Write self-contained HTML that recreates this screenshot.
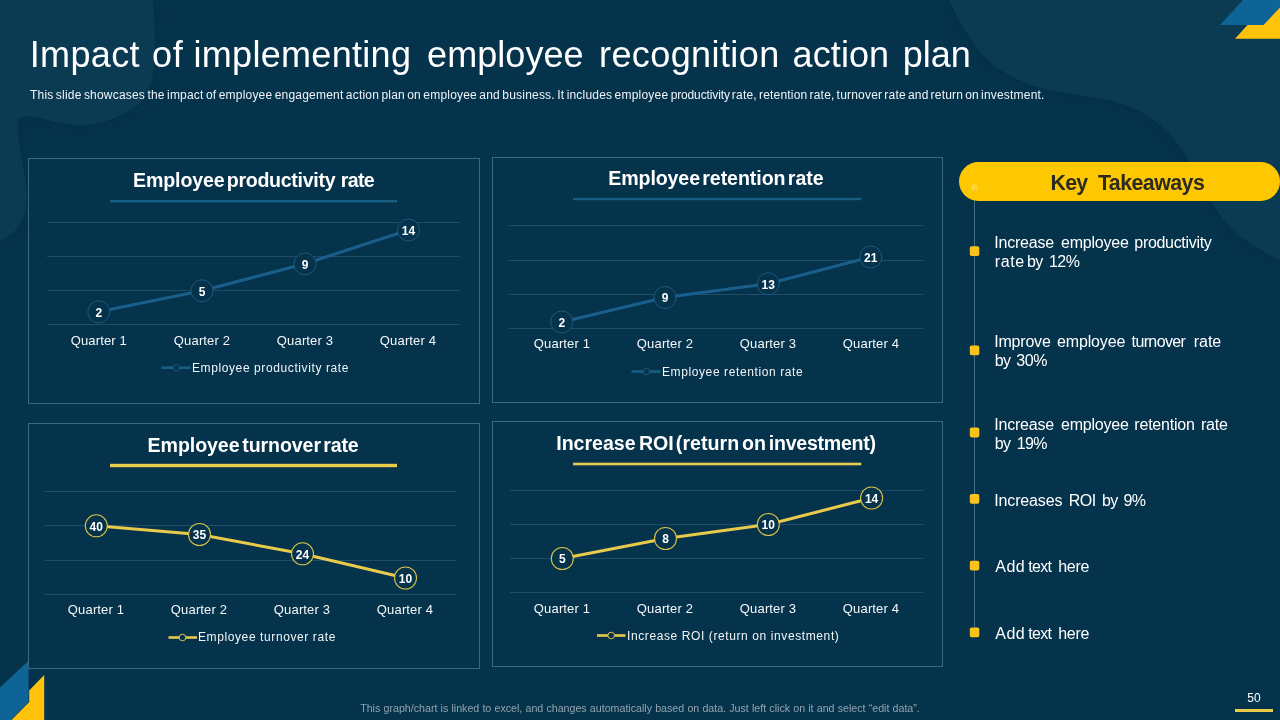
<!DOCTYPE html>
<html lang="en">
<head>
<meta charset="utf-8">
<title>Impact of implementing employee recognition action plan</title>
<style>
  html,body{margin:0;padding:0;}
  body{width:1280px;height:720px;overflow:hidden;background:#05334b;font-family:"Liberation Sans",Arial,sans-serif;color:#fff;}
  #slide{position:relative;width:1280px;height:720px;overflow:hidden;background:#05334b;}
  #art{position:absolute;left:0;top:0;width:1280px;height:720px;}
  .abs{position:absolute;white-space:nowrap;}
  h1{margin:0;font-size:36px;line-height:43px;font-weight:400;color:#fff;}
  .sub{left:30px;top:88px;font-size:12px;line-height:14px;color:#f0f4f7;letter-spacing:0.2px;word-spacing:-1.45px;}
  .ct{font-weight:700;font-size:19.6px;line-height:24px;color:#fff;}
  .kt{left:958.5px;top:162px;width:321.5px;height:39px;border-radius:19.5px;background:#fec800;}
  .dot{position:absolute;left:12.5px;top:21.5px;width:7px;height:7px;border-radius:50%;background:#ffd440;opacity:.8;}
  .kth{font-weight:700;font-size:21.33px;line-height:26px;color:#2d2a20;}
  .li{font-size:16px;line-height:19px;color:#fff;}
  .foot{left:0;width:1280px;top:702px;text-align:center;font-size:10.67px;line-height:12px;color:#93a4af;word-spacing:0.2px;}
  .pn{left:1235px;width:38px;top:691px;text-align:center;font-size:12px;line-height:14px;color:#fff;}
  svg text{font-family:"Liberation Sans",Arial,sans-serif;}
</style>
</head>
<body>
<div id="slide">
<svg id="art" width="1280" height="720" viewBox="0 0 1280 720">
  <!-- background blobs -->
  <defs><filter id="soft" x="-20%" y="-20%" width="140%" height="140%"><feGaussianBlur stdDeviation="5"/></filter></defs>
  <g fill="#022a40" opacity="0.55" filter="url(#soft)"><path d="M0 0 H153 C153.3 6.2 155.0 24.5 155.0 37.0 C155.0 49.5 155.1 64.5 153.0 75.0 C150.9 85.5 147.5 93.5 142.5 100.0 C137.5 106.5 130.1 110.2 123.0 114.0 C115.9 117.8 107.5 121.1 100.0 123.0 C92.5 124.9 85.5 125.8 78.0 125.5 C70.5 125.2 61.8 122.8 55.0 121.5 C48.2 120.2 42.2 118.2 37.0 117.5 C31.8 116.8 27.1 116.2 24.0 117.0 C20.9 117.8 19.2 117.3 18.5 122.0 C17.8 126.7 18.7 137.5 19.5 145.0 C20.3 152.5 22.1 159.7 23.3 167.0 C24.5 174.3 26.1 182.3 26.5 189.0 C26.9 195.7 26.8 201.8 26.0 207.0 C25.2 212.2 24.2 215.7 22.0 220.0 C19.8 224.3 16.7 229.5 13.0 233.0 C9.3 236.5 2.2 239.7 0.0 241.0 Z"/><path d="M949.5 0 C951.8 4.6 956.1 17.2 963.0 27.7 C969.9 38.2 979.7 53.5 991.0 63.0 C1002.3 72.5 1016.1 79.7 1030.6 85.0 C1045.1 90.3 1062.8 91.9 1078.0 95.0 C1093.2 98.1 1108.5 99.1 1121.7 103.7 C1134.9 108.3 1146.5 114.3 1157.0 122.7 C1167.5 131.1 1176.4 141.4 1185.0 154.0 C1193.6 166.6 1200.2 184.7 1208.8 198.0 C1217.4 211.3 1224.6 223.1 1236.5 233.6 C1248.4 244.1 1272.8 256.4 1280.0 261.0 V0 Z"/></g>
  <path d="M0 0 H153 C153.3 6.2 155.0 24.5 155.0 37.0 C155.0 49.5 155.1 64.5 153.0 75.0 C150.9 85.5 147.5 93.5 142.5 100.0 C137.5 106.5 130.1 110.2 123.0 114.0 C115.9 117.8 107.5 121.1 100.0 123.0 C92.5 124.9 85.5 125.8 78.0 125.5 C70.5 125.2 61.8 122.8 55.0 121.5 C48.2 120.2 42.2 118.2 37.0 117.5 C31.8 116.8 27.1 116.2 24.0 117.0 C20.9 117.8 19.2 117.3 18.5 122.0 C17.8 126.7 18.7 137.5 19.5 145.0 C20.3 152.5 22.1 159.7 23.3 167.0 C24.5 174.3 26.1 182.3 26.5 189.0 C26.9 195.7 26.8 201.8 26.0 207.0 C25.2 212.2 24.2 215.7 22.0 220.0 C19.8 224.3 16.7 229.5 13.0 233.0 C9.3 236.5 2.2 239.7 0.0 241.0 Z" fill="#0b3a53"/>
  <path d="M949.5 0 C951.8 4.6 956.1 17.2 963.0 27.7 C969.9 38.2 979.7 53.5 991.0 63.0 C1002.3 72.5 1016.1 79.7 1030.6 85.0 C1045.1 90.3 1062.8 91.9 1078.0 95.0 C1093.2 98.1 1108.5 99.1 1121.7 103.7 C1134.9 108.3 1146.5 114.3 1157.0 122.7 C1167.5 131.1 1176.4 141.4 1185.0 154.0 C1193.6 166.6 1200.2 184.7 1208.8 198.0 C1217.4 211.3 1224.6 223.1 1236.5 233.6 C1248.4 244.1 1272.8 256.4 1280.0 261.0 V0 Z" fill="#0b3a53"/>
  <!-- corner art top right -->
  <polygon points="1243,0 1280,0 1280,7.5 1263.5,25 1220,25" fill="#0e6496"/>
  <polygon points="1280,7.5 1280,38.7 1235,38.7 1247.5,25 1263.5,25" fill="#ffc30b"/>
  <!-- corner art bottom left -->
  <polygon points="0,687.5 28.5,660.8 28.5,702 11,720 0,720" fill="#0e6496"/>
  <polygon points="44.2,675 44.2,720 11.5,720 29.2,702 29.2,690.5" fill="#ffc30b"/>
  <!-- panels -->
  <g fill="#05334b" stroke="#3a6781" stroke-width="1">
    <rect x="28.5" y="158.5" width="451" height="245"/>
    <rect x="492.5" y="157.5" width="450" height="245"/>
    <rect x="28.5" y="423.5" width="451" height="245"/>
    <rect x="492.5" y="421.5" width="450" height="245"/>
  </g>
  <!-- title underlines -->
  <g>
    <rect x="110" y="200" width="287" height="2.4" fill="#156082"/>
    <rect x="573" y="197.8" width="288.2" height="2.4" fill="#156082"/>
    <rect x="110" y="463.8" width="287" height="3.4" fill="#e9cb4c"/>
    <rect x="573" y="462.7" width="288.2" height="2.6" fill="#e9cb4c"/>
  </g>
  <!-- gridlines -->
  <g stroke="#1f4d68" stroke-width="1" fill="none">
    <path d="M47 222.5H460 M47 256.5H460 M47 290.5H460 M47 324.5H460"/>
    <path d="M509 225.5H923.5 M509 260.5H923.5 M509 294.5H923.5 M509 328.5H923.5"/>
    <path d="M44.5 491.5H456.5 M44.5 525.5H456.5 M44.5 560.5H456.5 M44.5 594.5H456.5"/>
    <path d="M510 490.5H923.5 M510 524.5H923.5 M510 558.5H923.5 M510 592.5H923.5"/>
  </g>
  <!-- series lines -->
  <g fill="none" stroke-width="3" stroke-linejoin="round" stroke-linecap="round">
    <polyline points="98.8,311.8 202,290.8 305,263.8 408.5,230" stroke="#1a5e8c"/>
    <polyline points="561.8,322 665,297.5 768.2,283.8 870.8,257" stroke="#1a5e8c"/>
    <polyline points="96.3,525.8 199.5,534.5 302.5,553.8 405.5,578" stroke="#e9cb4c"/>
    <polyline points="562.3,558.5 665.5,538.5 768.3,524.5 871.6,498" stroke="#e9cb4c"/>
  </g>
  <!-- markers -->
  <g fill="#05334b" stroke="#1d587f" stroke-width="1"><circle cx="98.8" cy="311.8" r="11"/><circle cx="202" cy="290.8" r="11"/><circle cx="305" cy="263.8" r="11"/><circle cx="408.5" cy="230" r="11"/><circle cx="561.8" cy="322" r="11"/><circle cx="665" cy="297.5" r="11"/><circle cx="768.2" cy="283.8" r="11"/><circle cx="870.8" cy="257" r="11"/></g>
  <g fill="#05334b" stroke="#d9c24a" stroke-width="1.1"><circle cx="96.3" cy="525.8" r="11"/><circle cx="199.5" cy="534.5" r="11"/><circle cx="302.5" cy="553.8" r="11"/><circle cx="405.5" cy="578" r="11"/><circle cx="562.3" cy="558.5" r="11"/><circle cx="665.5" cy="538.5" r="11"/><circle cx="768.3" cy="524.5" r="11"/><circle cx="871.6" cy="498" r="11"/></g>
  <!-- data labels -->
  <g fill="#fff" font-size="12" font-weight="700" text-anchor="middle">
    <text x="98.8" y="316.6">2</text><text x="202" y="295.6">5</text><text x="305" y="268.6">9</text><text x="408.5" y="234.8">14</text>
    <text x="561.8" y="326.8">2</text><text x="665" y="302.3">9</text><text x="768.2" y="288.6">13</text><text x="870.8" y="261.8">21</text>
    <text x="96.3" y="530.6">40</text><text x="199.5" y="539.3">35</text><text x="302.5" y="558.6">24</text><text x="405.5" y="582.8">10</text>
    <text x="562.3" y="563.3">5</text><text x="665.5" y="543.3">8</text><text x="768.3" y="529.3">10</text><text x="871.6" y="502.8">14</text>
  </g>
  <!-- category labels -->
  <g fill="#f4f8fb" font-size="13" text-anchor="middle" letter-spacing="0.15">
    <text x="98.8" y="345">Quarter 1</text><text x="202" y="345">Quarter 2</text><text x="305" y="345">Quarter 3</text><text x="408" y="345">Quarter 4</text>
    <text x="562" y="348.2">Quarter 1</text><text x="665" y="348.2">Quarter 2</text><text x="768" y="348.2">Quarter 3</text><text x="871" y="348.2">Quarter 4</text>
    <text x="96" y="614.2">Quarter 1</text><text x="199" y="614.2">Quarter 2</text><text x="302" y="614.2">Quarter 3</text><text x="405" y="614.2">Quarter 4</text>
    <text x="562" y="613">Quarter 1</text><text x="665" y="613">Quarter 2</text><text x="768" y="613">Quarter 3</text><text x="871" y="613">Quarter 4</text>
  </g>
  <!-- legends -->
  <g stroke-width="2.6" fill="#05334b">
    <line x1="161.5" y1="367.7" x2="190.5" y2="367.7" stroke="#156082"/><circle cx="176.4" cy="367.7" r="3.3" stroke="#1d587f" stroke-width="1"/>
    <line x1="631.5" y1="371.5" x2="660.5" y2="371.5" stroke="#156082"/><circle cx="646.4" cy="371.5" r="3.3" stroke="#1d587f" stroke-width="1"/>
    <line x1="168.5" y1="637.5" x2="197" y2="637.5" stroke="#e9cb4c"/><circle cx="182.5" cy="637.5" r="3.3" stroke="#d9c24a" stroke-width="1"/>
    <line x1="597" y1="635.5" x2="625.5" y2="635.5" stroke="#e9cb4c"/><circle cx="611.2" cy="635.5" r="3.3" stroke="#d9c24a" stroke-width="1"/>
  </g>
  <g fill="#f0f5f8" font-size="12" letter-spacing="0.6">
    <text x="192" y="371.6">Employee productivity rate</text>
    <text x="662" y="375.6">Employee retention rate</text>
    <text x="198" y="641">Employee turnover rate</text>
    <text x="627" y="639.6">Increase ROI (return on investment)</text>
  </g>
  <!-- takeaways line + bullets -->
  <line x1="974.5" y1="187" x2="974.5" y2="632" stroke="#456f87" stroke-width="1"/>
  <g fill="#fbc21a">
    <rect x="969.8" y="246.3" width="9.5" height="9.8" rx="1.8"/>
    <rect x="969.8" y="345.4" width="9.5" height="9.8" rx="1.8"/>
    <rect x="969.8" y="427.6" width="9.5" height="9.8" rx="1.8"/>
    <rect x="969.8" y="493.9" width="9.5" height="9.8" rx="1.8"/>
    <rect x="969.8" y="560.7" width="9.5" height="9.8" rx="1.8"/>
    <rect x="969.8" y="627.4" width="9.5" height="9.8" rx="1.8"/>
  </g>
  <rect x="1235" y="709" width="38" height="3" fill="#e9cb4c"/>
</svg>

<h1 class="abs" style="left:29.75px;top:33px;"><span style="letter-spacing:0.35px">Impact</span> <span style="margin-left:2px;letter-spacing:0.7px">of</span> <span style="margin-left:0.17px;letter-spacing:0.3px">implementing</span> <span style="margin-left:5.84px;letter-spacing:0.07px">employee</span> <span style="margin-left:5.33px;letter-spacing:0.4px">recognition</span> <span style="margin-left:2.97px;letter-spacing:0.1px">action</span> <span style="margin-left:3.57px">plan</span></h1>
<div class="abs sub"><span style="word-spacing:-1.17px">This slide showcases the impact of employee engagement action plan on employee and business. It includes employee </span><span style="letter-spacing:-0.13px">productivity</span> rate, retention rate, turnover rate and return on investment.</div>

<div class="abs ct" style="left:132.95px;top:168px;"><span style="letter-spacing:-0.11px">Employee</span> <span style="margin-left:-3.37px;letter-spacing:-0.3px">productivity</span> <span style="letter-spacing:-0.67px">rate</span></div>
<div class="abs ct" style="left:608.25px;top:166px;"><span style="letter-spacing:-0.11px">Employee</span> <span style="margin-left:-3.17px;letter-spacing:-0.06px">retention</span> <span style="margin-left:-3.21px">rate</span></div>
<div class="abs ct" style="left:147.55px;top:433px;"><span style="letter-spacing:-0.08px">Employee</span> <span style="margin-left:-2.7px;letter-spacing:-0.1px">turnover</span> <span style="margin-left:-3.13px;letter-spacing:-0.17px">rate</span></div>
<div class="abs ct" style="left:556.25px;top:431px;"><span style="letter-spacing:-0.03px">Increase</span> <span style="margin-left:-1.95px;letter-spacing:-0.12px">ROI</span> <span style="margin-left:-3.16px;letter-spacing:0.03px">(return</span> <span style="margin-left:-2.57px">on</span> <span style="margin-left:-2.68px;letter-spacing:-0.28px">investment)</span></div>

<div class="abs kt"><i class="dot"></i></div>
<div class="abs kth" style="left:1050.45px;top:170px;"><span style="letter-spacing:-0.7px">Key</span> <span style="margin-left:4.53px;letter-spacing:-0.53px">Takeaways</span></div>

<div class="abs li" style="left:994.26px;top:233px;"><span style="letter-spacing:-0.22px">Increase</span> <span style="margin-left:2.72px;letter-spacing:-0.22px">employee</span> <span style="margin-left:1.25px;letter-spacing:-0.32px">productivity</span></div>
<div class="abs li" style="left:994.76px;top:252px;"><span style="letter-spacing:0.61px">rate</span> <span style="margin-left:-2.17px;letter-spacing:-0.7px">by</span> <span style="margin-left:1.94px;letter-spacing:-0.5px">12%</span></div>
<div class="abs li" style="left:994.26px;top:332px;"><span style="letter-spacing:-0.21px">Improve</span> <span style="margin-left:1.93px;letter-spacing:-0.14px">employee</span> <span style="margin-left:1.92px;letter-spacing:-0.63px">turnover</span> <span style="margin-left:4.11px;letter-spacing:-0.06px">rate</span></div>
<div class="abs li" style="left:994.75px;top:351px;"><span style="letter-spacing:-0.7px">by</span> <span style="margin-left:1.62px;letter-spacing:-0.44px">30%</span></div>
<div class="abs li" style="left:994.26px;top:415px;"><span style="letter-spacing:-0.22px">Increase</span> <span style="margin-left:2.72px;letter-spacing:-0.22px">employee</span> <span style="margin-left:1.25px;letter-spacing:-0.22px">retention</span> <span style="margin-left:1.87px;letter-spacing:-0.2px">rate</span></div>
<div class="abs li" style="left:994.75px;top:434px;"><span style="letter-spacing:-0.7px">by</span> <span style="margin-left:2.14px;letter-spacing:-0.7px">19%</span></div>
<div class="abs li" style="left:994.26px;top:491px;"><span style="letter-spacing:-0.15px">Increases</span> <span style="margin-left:1.95px;letter-spacing:-0.48px">ROI</span> <span style="margin-left:1.9px;letter-spacing:-0.7px">by</span> <span style="margin-left:1.47px;letter-spacing:-0.7px">9%</span></div>
<div class="abs li" style="left:995.35px;top:557px;"><span style="letter-spacing:0.37px">Add</span> <span style="margin-left:-1.07px;letter-spacing:-0.7px">text</span> <span style="margin-left:2.39px;letter-spacing:-0.26px">here</span></div>
<div class="abs li" style="left:995.35px;top:624px;"><span style="letter-spacing:0.37px">Add</span> <span style="margin-left:-1.07px;letter-spacing:-0.7px">text</span> <span style="margin-left:2.39px;letter-spacing:-0.26px">here</span></div>

<div class="abs foot">This graph/chart is linked to excel, and changes automatically based on data. Just left click on it and select “edit data”.</div>
<div class="abs pn">50</div>
</div>
</body>
</html>
